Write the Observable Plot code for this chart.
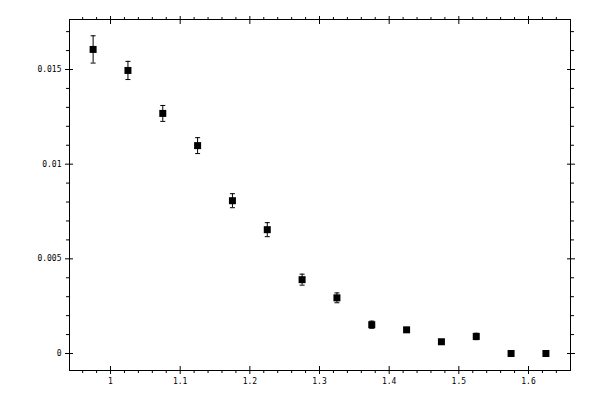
<!DOCTYPE html>
<html><head><meta charset="utf-8">
<script src="https://cdn.jsdelivr.net/npm/d3@7"></script>
<script src="https://cdn.jsdelivr.net/npm/@observablehq/plot@0.6"></script>
<style>body{margin:0;background:#fff}</style>
</head><body><div id="chart"></div>
<script>
// data
const xs   = [0.975, 1.025, 1.075, 1.125, 1.175, 1.225, 1.275, 1.325, 1.375, 1.425, 1.475, 1.525, 1.575, 1.625];
const ys   = [0.01606, 0.01495, 0.01268, 0.01098, 0.00807, 0.00654, 0.00390, 0.00294, 0.00152, 0.00125, 0.00062, 0.00090, 0.0, 0.0];
const errs = [0.00072, 0.00048, 0.00042, 0.00042, 0.00037, 0.00037, 0.00029, 0.00026, 0.00019, 0.00010, 0.00010, 0.00017, 0.0, 0.0];
// ticks
const xMajor = [1, 1.1, 1.2, 1.3, 1.4, 1.5, 1.6];
const xTickLabels = ["1", "1.1", "1.2", "1.3", "1.4", "1.5", "1.6"];
const xMinor = [0.96, 0.98, 1.02, 1.04, 1.06, 1.08, 1.12, 1.14, 1.16, 1.18, 1.22, 1.24, 1.26, 1.28, 1.32, 1.34, 1.36, 1.38, 1.42, 1.44, 1.46, 1.48, 1.52, 1.54, 1.56, 1.58, 1.62, 1.64];
const yMajor = [0, 0.005, 0.01, 0.015];
const yTickLabels = ["0", "0.005", "0.01", "0.015"];
const yMinor = [0.001, 0.002, 0.003, 0.004, 0.006, 0.007, 0.008, 0.009, 0.011, 0.012, 0.013, 0.014, 0.016, 0.017];

const data = xs.map((x, i) => ({x, y: ys[i], lo: ys[i] - errs[i], hi: ys[i] + errs[i]}));
const cap = {draw(ctx) { ctx.moveTo(-2.5, 0); ctx.lineTo(2.5, 0); }};
const blank = () => "";
const xLab = d => xTickLabels[xMajor.indexOf(d)];
const yLab = d => yTickLabels[yMajor.indexOf(d)];

const chart = Plot.plot({
  width: 600, height: 400,
  marginLeft: 69, marginRight: 30, marginTop: 19, marginBottom: 30,
  style: {fontFamily: "'DejaVu Sans Mono', monospace", fontSize: "8px", color: "black", background: "white"},
  x: {domain: [0.9411, 1.6603], label: null},
  y: {domain: [-0.000898, 0.017641], label: null},
  marks: [
    Plot.frame({stroke: "black", strokeWidth: 1}),
    // bottom
    Plot.axisX(xMinor, {anchor: "bottom", tickSize: 3, tickFormat: blank, label: null}),
    Plot.axisX(xMajor, {anchor: "bottom", tickSize: 8, dy: -4, tickFormat: blank, label: null}),
    Plot.axisX(xMajor, {anchor: "bottom", tickSize: 0, tickPadding: 8, tickFormat: xLab, label: null}),
    // top
    Plot.axisX(xMinor, {anchor: "top", tickSize: 3, tickFormat: blank, label: null}),
    Plot.axisX(xMajor, {anchor: "top", tickSize: 8, dy: 4, tickFormat: blank, label: null}),
    // left
    Plot.axisY(yMinor, {anchor: "left", tickSize: 3, tickFormat: blank, label: null}),
    Plot.axisY(yMajor, {anchor: "left", tickSize: 8, dx: 4, tickFormat: blank, label: null}),
    Plot.axisY(yMajor, {anchor: "left", tickSize: 0, tickPadding: 8, tickFormat: yLab, label: null}),
    // right
    Plot.axisY(yMinor, {anchor: "right", tickSize: 3, tickFormat: blank, label: null}),
    Plot.axisY(yMajor, {anchor: "right", tickSize: 8, dx: -4, tickFormat: blank, label: null}),
    // error bars
    Plot.ruleX(data.filter(d => d.hi > d.lo), {x: "x", y1: "lo", y2: "hi", stroke: "black", strokeWidth: 1}),
    Plot.dot(data.filter(d => d.hi > d.lo), {x: "x", y: "hi", symbol: cap, stroke: "black", strokeWidth: 1}),
    Plot.dot(data.filter(d => d.hi > d.lo), {x: "x", y: "lo", symbol: cap, stroke: "black", strokeWidth: 1}),
    // markers
    Plot.dot(data, {x: "x", y: "y", symbol: "square", r: 3.95, fill: "black", stroke: "none"})
  ]
});
document.getElementById("chart").appendChild(chart);
</script>
</body></html>
